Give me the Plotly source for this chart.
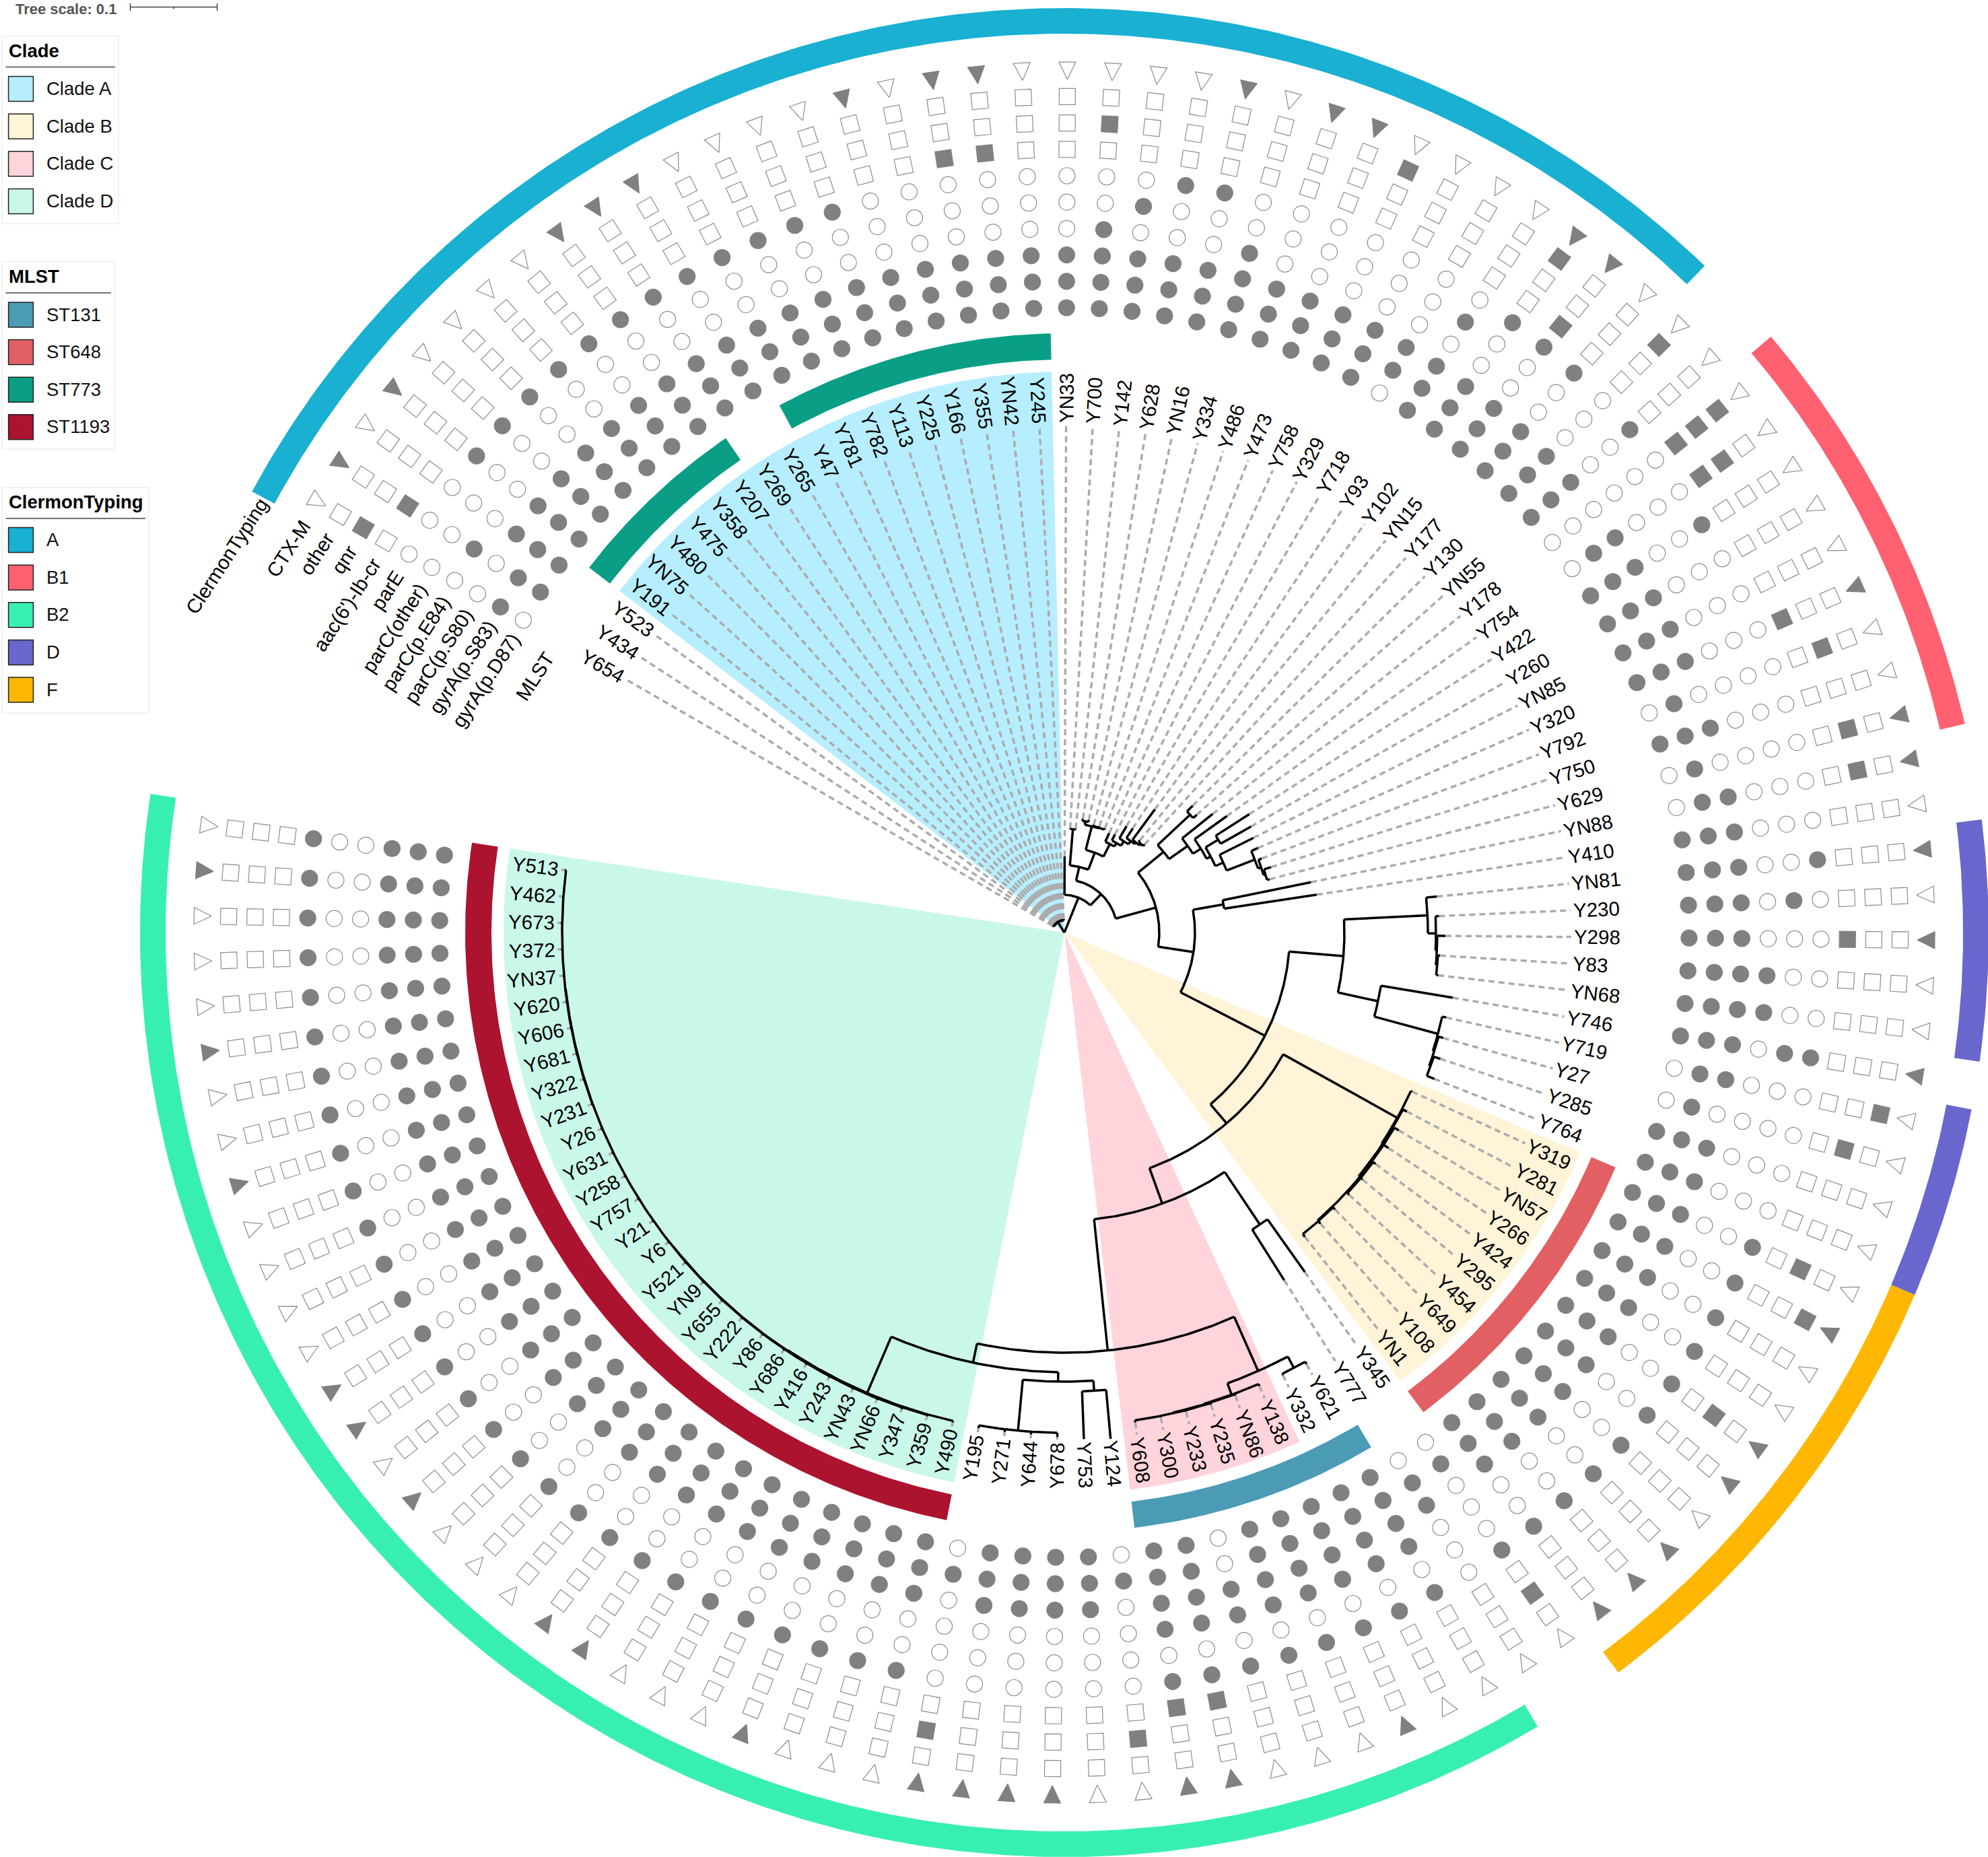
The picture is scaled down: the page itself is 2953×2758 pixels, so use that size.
import numpy as np
import plotly.graph_objects as go

# leaves clockwise, starting next to the column headers
leaves = ["Y654", "Y434", "Y523", "Y191", "YN75", "Y480", "Y475", "Y358", "Y207", "Y269",
          "Y265", "Y47", "Y781", "Y782", "Y113", "Y225", "Y166", "Y355", "YN42", "Y245",
          "YN33", "Y700", "Y142", "Y628", "YN16", "Y334", "Y486", "Y473", "Y758", "Y329",
          "Y718", "Y93", "Y102", "YN15", "Y177", "Y130", "YN55", "Y178", "Y754", "Y422",
          "Y260", "YN85", "Y320", "Y792", "Y750", "Y629", "YN88", "Y410", "YN81", "Y230",
          "Y298", "Y83", "YN68", "Y746", "Y719", "Y27", "Y285", "Y764", "Y319", "Y281",
          "YN57", "Y266", "Y424", "Y295", "Y454", "Y649", "Y108", "YN1", "Y345", "Y777",
          "Y621", "Y332", "Y138", "YN86", "Y235", "Y233", "Y300", "Y608", "Y124", "Y753",
          "Y678", "Y644", "Y271", "Y195", "Y490", "Y359", "Y347", "YN66", "YN43", "Y243",
          "Y416", "Y686", "Y86", "Y222", "Y655", "YN9", "Y521", "Y6", "Y21", "Y757",
          "Y258", "Y631", "Y26", "Y231", "Y322", "Y681", "Y606", "Y620", "YN37", "Y372",
          "Y673", "Y462", "Y513"]

# presence of each gene, one string per leaf, columns in the order of mark_names
marks = ["0100000100", "1101001001", "1110000000", "1110010001", "1110010000", "1110010000",
         "1110010000", "1110010000", "1110010001", "1110010001", "1110010001", "1110010000",
         "1110010000", "1110010000", "1110010000", "1110000001", "1110000000", "1110001001",
         "1110001001", "1110000000", "1110000000", "1111000100", "1110100000", "1110010000",
         "1110010001", "1111000000", "1110000001", "1110000001", "1110000010", "1110000000",
         "0110000000", "1110100000", "1110010011", "1110011001", "1110010000", "1110000010",
         "1110010000", "0000001110", "0110001100", "1110010000", "1110000000", "1110000000",
         "1110001001", "0100000100", "1110000000", "0100000101", "0110000101", "1110000000",
         "1110010001", "1110100000", "1110001001", "1111000000", "1111000000", "1110110001",
         "0110000010", "0100000100", "1110000000", "1110000000", "1110010100", "1110010011",
         "1110010000", "1110010000", "1110010101", "1110010001", "1110010000", "1110010001",
         "1110010001", "1110010001", "0100010100", "0110000000", "1111010000", "1111010000",
         "1111010001", "1111010000", "1111010000", "0011010000", "1111011001", "1111011001",
         "0100000100", "1110000000", "1110000001", "1110000001", "1110000001", "0100000101",
         "1110010000", "1110010000", "1110010000", "1110010001", "1110010000", "1110010000",
         "1110010000", "1110010001", "1110010001", "1110010000", "1110010000", "1110010000",
         "1110010001", "1110010000", "1110010001", "1110010001", "1110010000", "1110010000",
         "1110010000", "1110010000", "1110010001", "1110010000", "1110010000", "1110010001",
         "1110010000", "1110010000", "1110010000", "1110010001", "1110010000"]

mark_names = ["gyrA(p.D87)", "gyrA(p.S83)", "parC(p.S80)", "parC(p.E84)", "parC(other)", "parE",
              "aac(6')-Ib-cr", "qnr", "other", "CTX-M"]

clade_names = ["Clade A", "Clade B", "Clade C", "Clade D"]
clade_colors = ["#B6EEFF", "#FFF3D8", "#FFD4DA", "#C9F7E9"]
clade_spans = [("Y191", "Y245"), ("Y319", "YN1"), ("Y138", "Y608"), ("Y490", "Y513")]

mlst_names = ["ST131", "ST648", "ST773", "ST1193"]
mlst_colors = ["#4B9BB5", "#E26063", "#099E85", "#AC132F"]
mlst_spans = [("ST131", "Y621", "Y608"), ("ST648", "Y319", "YN1"), ("ST773", "Y191", "Y207"),
              ("ST773", "Y47", "Y245"), ("ST1193", "Y490", "Y513")]

clermon_names = ["A", "B1", "B2", "D", "F"]
clermon_colors = ["#19B0D2", "#FF6170", "#38EFB2", "#6966CD", "#FFB703"]
clermon_spans = [("A", "Y654", "Y177"), ("B1", "Y178", "Y629"), ("D", "YN81", "YN68"),
                 ("D", "Y719", "Y764"), ("F", "Y319", "YN1"), ("B2", "Y621", "Y513")]

# tree: (node depth, children), leaf: (name, tip depth)
upper_a = (163, [(168, [("Y628", 171), ("YN16", 171)]),
                 (164, [("Y334", 166), ("Y486", 166), ("Y473", 166)])])
upper_b = (148, [("Y758", 162), (154, [("Y329", 164), (162, [("Y718", 183), (168, [("Y93", 185), (171, [
    ("Y102", 227), (174, [("YN15", 177), ("Y177", 177)])])])])])])
upper_left = (100, [(154, [("Y700", 155), ("Y142", 155)]), (127, [upper_a, upper_b])])

right_d = (303, [("Y320", 314), (308, [("Y792", 313), (311, [("Y750", 322), ("Y629", 315)])])])
right_c = (245, [(267, [("Y422", 326), ("Y260", 319)]), (258, [("YN85", 314), right_d])])
upper_right = (190, [(256, [("Y130", 268), ("YN55", 263)]),
                     (224, [("Y178", 282), (238, [("Y754", 297), right_c])])])

group_y230 = (540, [("YN81", 556), (552, [("Y230", 557), (554, [("Y298", 566), (556, [("Y83", 559), ("YN68", 559)])])])])
group_y746 = (477, [("Y746", 585), (575, [("Y719", 581), (577, [("Y27", 584), (579, [("Y285", 589), ("Y764", 591)])])])])

clade_b = (566, [("Y319", 568), (567.5, [("Y281", 574), (569.5, [
    ("YN57", 577), ("Y266", 578),
    (571.5, [("Y424", 576), ("Y295", 575), ("Y454", 575)]),
    (571, [("Y649", 575), ("Y108", 576), ("YN1", 576)])])])])

clade_c = (730, [("Y138", 733), (731, [("YN86", 733), (732, [("Y235", 734), ("Y233", 734), ("Y300", 734), ("Y608", 735)])])])
group_y621 = (712, [(731, [("Y621", 735), ("Y332", 733)]), clade_c])

clade_d_tail = (746, [(name, 748) for name in leaves[103:]])
clade_d = (744, [("Y490", 746), (745, [("Y359", 747), (745.5, [(name, 748) for name in leaves[86:103]] + [clade_d_tail])])])
group_y195 = (667, [(743, [("Y195", 747), ("Y271", 747), ("Y644", 747), ("Y678", 749)]),
                    (682, [("Y753", 753), ("Y124", 755)])])
lower = (624, [group_y621, (653, [clade_d, group_y195])])

big_right = (372, [clade_b, (428, [(522, [("Y345", 618), ("Y777", 611)]), lower])])
right_main = (194, [(240, [("YN88", 374), ("Y410", 379)]),
                    (335, [(416, [group_y230, group_y746]), big_right])])
tree = (0, [(18, [(name, 20) for name in leaves[:20]]),
            (56, [("YN33", 113), (79, [upper_left, (141, [upper_right, right_main])])])])

CX, CY = 1581, 1385
START, STEP = -60, 3.01
WEDGE_R = 833
LABEL_R = 757
COL_R = [928 + 39.2 * k for k in range(10)]
FONT = "Liberation Sans"
FONT_SIZE = 29.5
EDGE = "#8C8C8C"

angle_of = {name: START + STEP * i for i, name in enumerate(leaves)}

char_widths = {"Y": .667, "N": .722, "M": .833, "L": .556, "S": .667, "T": .611, "C": .722, "X": .667,
               "A": .667, "D": .722, "E": .667, "I": .278, "a": .556, "b": .556, "c": .5, "e": .556,
               "g": .556, "h": .556, "i": .222, "l": .222, "m": .833, "n": .556, "o": .556, "p": .556,
               "q": .556, "r": .333, "t": .278, "y": .5, "(": .333, ")": .333, ".": .278, "-": .333,
               "'": .191}


def text_width(text, size):
    return sum(char_widths.get(c, .556) for c in text) * size


def polar(r, t):
    a = np.radians(t)
    return CX + r * np.sin(a), CY - r * np.cos(a)


def arc_points(r, t0, t1):
    ts = np.linspace(t0, t1, max(2, int(abs(t1 - t0) * 2) + 2))
    return polar(r, ts)


def add_polygon(fig, xs, ys, color):
    fig.add_trace(go.Scatter(x=xs, y=ys, mode="lines", fill="toself", fillcolor=color,
                             line=dict(width=0, color=color), hoverinfo="skip"))


def add_ring(fig, name_first, name_last, r0, r1, color):
    t0 = angle_of[name_first] - STEP / 2
    t1 = angle_of[name_last] + STEP / 2
    x1, y1 = arc_points(r1, t0, t1)
    x0, y0 = arc_points(r0, t1, t0)
    add_polygon(fig, list(x1) + list(x0), list(y1) + list(y0), color)


branch_x, branch_y, dash_x, dash_y = [], [], [], []


def add_segment(xs, ys, px, py):
    xs.extend(list(px) + [None])
    ys.extend(list(py) + [None])


def walk(node, parent_depth):
    """Draw a node's branches, return its angle."""
    if isinstance(node[0], str):
        t = angle_of[node[0]]
        depth = node[1]
        add_segment(dash_x, dash_y, *polar(np.array([depth, LABEL_R - 4]), t))
    else:
        depth = node[0]
        ts = [walk(child, depth) for child in node[1]]
        t = (min(ts) + max(ts)) / 2
        add_segment(branch_x, branch_y, *arc_points(depth, min(ts), max(ts)))
    add_segment(branch_x, branch_y, *polar(np.array([parent_depth, depth]), t))
    return t


fig = go.Figure()

# clade wedges
for (first, last), color in zip(clade_spans, clade_colors):
    t0, t1 = angle_of[first] - STEP / 2, angle_of[last] + STEP / 2
    x, y = arc_points(WEDGE_R, t0, t1)
    add_polygon(fig, [CX] + list(x) + [CX], [CY] + list(y) + [CY], color)

walk(tree, 0)
fig.add_trace(go.Scatter(x=dash_x, y=dash_y, mode="lines", hoverinfo="skip",
                         line=dict(color="#ABABAB", width=3.5, dash="9px,6px")))
fig.add_trace(go.Scatter(x=branch_x, y=branch_y, mode="lines", hoverinfo="skip",
                         line=dict(color="black", width=3.5)))

# coloured strips
for name, first, last in mlst_spans:
    add_ring(fig, first, last, 851, 890, mlst_colors[mlst_names.index(name)])
for name, first, last in clermon_spans:
    add_ring(fig, first, last, 1335, 1373, clermon_colors[clermon_names.index(name)])

# gene presence, circles and squares
for col in range(9):
    symbol = "circle" if col < 6 else "square"
    for state, fill, edge in (("1", "#808080", "#808080"), ("0", "white", EDGE)):
        names = [n for n, m in zip(leaves, marks) if m[col] == state]
        ts = np.array([angle_of[n] for n in names])
        px, py = polar(COL_R[col], ts)
        fig.add_trace(go.Scatter(x=px, y=py, mode="markers", hoverinfo="skip",
                                 marker=dict(symbol=symbol, size=24, color=fill, angle=ts,
                                             line=dict(color=edge, width=1.2))))

# CTX-M triangles point to the centre
for state, fill, edge in (("1", "#808080", "#808080"), ("0", "white", EDGE)):
    tx, ty = [], []
    for n, m in zip(leaves, marks):
        if m[9] != state:
            continue
        t = angle_of[n]
        half = np.degrees(12.5 / 1293)
        ax, ay = polar(1267, t)
        bx, by = polar(1293, t - half)
        cx, cy = polar(1293, t + half)
        tx += [ax, bx, cx, ax, None]
        ty += [ay, by, cy, ay, None]
    fig.add_trace(go.Scatter(x=tx, y=ty, mode="lines", fill="toself", fillcolor=fill, hoverinfo="skip",
                             line=dict(color=edge, width=1.2)))

annotations = []
shapes = []


def add_text(x, y, text, size=FONT_SIZE, angle=0, xanchor="center", color="black"):
    annotations.append(dict(x=x, y=y, xref="x", yref="y", text=text, showarrow=False, textangle=angle,
                            xanchor=xanchor, yanchor="middle", borderpad=0,
                            font=dict(family=FONT, size=size, color=color)))


# leaf labels
for name in leaves:
    t = angle_of[name]
    w = text_width(name, FONT_SIZE)
    x, y = polar(LABEL_R + w / 2, t)
    add_text(x, y, name, angle=(t - 90) if 0 <= t < 180 else (t - 270))

# column headers
HEAD_T, HEAD_ANGLE = -61.6, -57
head_names = ["MLST"] + mark_names + ["ClermonTyping"]
head_r = [870] + COL_R + [1352]
for name, r in zip(head_names, head_r):
    w = text_width(name, FONT_SIZE)
    ex, ey = polar(r, HEAD_T)
    a = np.radians(HEAD_ANGLE)
    add_text(ex - w / 2 * np.cos(a), ey - w / 2 * np.sin(a), name, angle=HEAD_ANGLE)


def add_legend(title, names, colors, top, bottom, width, rule_y, first_swatch):
    shapes.append(dict(type="rect", x0=3, x1=3 + width, y0=top, y1=bottom,
                       line=dict(color="#EEEEEE", width=1.5), fillcolor="white", layer="below"))
    shapes.append(dict(type="line", x0=8.6, x1=width - 2, y0=rule_y, y1=rule_y, line=dict(color="#444444", width=1.5)))
    add_text(12, rule_y - 24.5, "<b>%s</b>" % title, size=27.5, xanchor="left")
    for k, (name, color) in enumerate(zip(names, colors)):
        y0 = first_swatch + 55.6 * k
        shapes.append(dict(type="rect", x0=12.6, x1=49.4, y0=y0, y1=y0 + 37, fillcolor=color,
                           line=dict(color="#222222", width=1.5)))
        add_text(68, y0 + 18, name, size=27.5, xanchor="left", color="#111111")


add_legend("Clade", clade_names, clade_colors, 54, 332, 173, 99.6, 113.6)
add_legend("MLST", mlst_names, mlst_colors, 388.6, 667, 167, 435, 449)
add_legend("ClermonTyping", clermon_names, clermon_colors, 724, 1059, 218, 770, 783.6)

# tree scale
add_text(22, 13.5, "<b>Tree scale: 0.1</b>", size=22, xanchor="left", color="#555555")
for seg in ([[193.5, 322.6], [10.5, 10.5]], [[193.5, 193.5], [5, 16]], [[322.6, 322.6], [5, 16]], [[258, 258], [10.5, 13.5]]):
    shapes.append(dict(type="line", x0=seg[0][0], x1=seg[0][1], y0=seg[1][0], y1=seg[1][1],
                       line=dict(color="#444444", width=1.5)))

fig.update_layout(width=2953, height=2758, margin=dict(l=0, r=0, t=0, b=0), showlegend=False,
                  plot_bgcolor="white", paper_bgcolor="white", hovermode=False,
                  xaxis=dict(range=[0, 2953], visible=False),
                  yaxis=dict(range=[2758, 0], visible=False),
                  annotations=annotations, shapes=shapes)

fig.write_html("out.html", config={"displayModeBar": False}, post_script="document.body.style.margin='0';")
